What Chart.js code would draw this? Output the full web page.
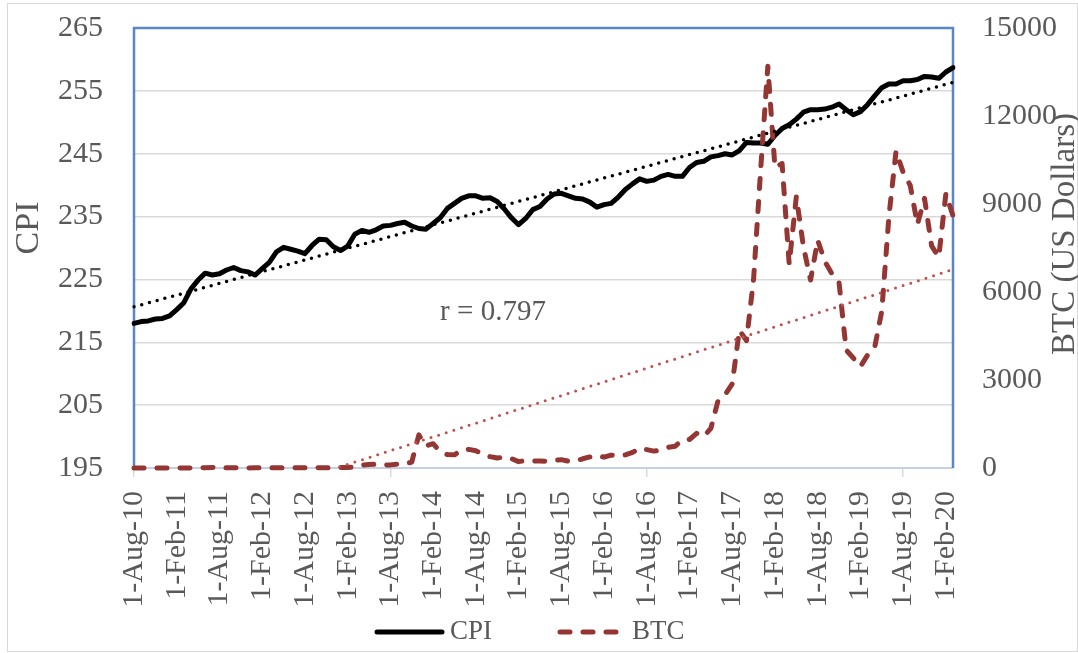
<!DOCTYPE html>
<html>
<head>
<meta charset="utf-8">
<script src="https://cdn.jsdelivr.net/npm/chart.js@4.4.1/dist/chart.umd.min.js"></script>
<style>
  html, body { margin: 0; padding: 0; background: #ffffff; }
  #wrap { width: 1078px; height: 653px; }
</style>
</head>
<body>
<div id="wrap"><canvas id="c" width="1078" height="653"></canvas></div>
<script>
// ---- categories (monthly, Aug 2010 .. Mar 2020) ----
const months = [
  'Aug-10','Sep-10','Oct-10','Nov-10','Dec-10',
  'Jan-11','Feb-11','Mar-11','Apr-11','May-11','Jun-11','Jul-11','Aug-11','Sep-11','Oct-11','Nov-11','Dec-11',
  'Jan-12','Feb-12','Mar-12','Apr-12','May-12','Jun-12','Jul-12','Aug-12','Sep-12','Oct-12','Nov-12','Dec-12',
  'Jan-13','Feb-13','Mar-13','Apr-13','May-13','Jun-13','Jul-13','Aug-13','Sep-13','Oct-13','Nov-13','Dec-13',
  'Jan-14','Feb-14','Mar-14','Apr-14','May-14','Jun-14','Jul-14','Aug-14','Sep-14','Oct-14','Nov-14','Dec-14',
  'Jan-15','Feb-15','Mar-15','Apr-15','May-15','Jun-15','Jul-15','Aug-15','Sep-15','Oct-15','Nov-15','Dec-15',
  'Jan-16','Feb-16','Mar-16','Apr-16','May-16','Jun-16','Jul-16','Aug-16','Sep-16','Oct-16','Nov-16','Dec-16',
  'Jan-17','Feb-17','Mar-17','Apr-17','May-17','Jun-17','Jul-17','Aug-17','Sep-17','Oct-17','Nov-17','Dec-17',
  'Jan-18','Feb-18','Mar-18','Apr-18','May-18','Jun-18','Jul-18','Aug-18','Sep-18','Oct-18','Nov-18','Dec-18',
  'Jan-19','Feb-19','Mar-19','Apr-19','May-19','Jun-19','Jul-19','Aug-19','Sep-19','Oct-19','Nov-19','Dec-19',
  'Jan-20','Feb-20','Mar-20'
];
const labelEvery = 6;   // a tick label every 6 months (Aug / Feb)

// ---- series ----
const cpi = [
  218.0, 218.3, 218.4, 218.7, 218.8,
  219.2, 220.2, 221.3, 223.5, 224.9, 226.0, 225.7, 225.9, 226.5, 226.9, 226.4, 226.2,
  225.7, 226.7, 227.7, 229.4, 230.1, 229.8, 229.5, 229.1, 230.4, 231.4, 231.3, 230.2,
  229.6, 230.3, 232.2, 232.8, 232.5, 232.9, 233.5, 233.6, 233.9, 234.1, 233.5, 233.1,
  233.0, 233.9, 234.8, 236.3, 237.1, 237.9, 238.3, 238.3, 237.9, 238.0, 237.4, 236.2,
  234.8, 233.7, 234.7, 236.1, 236.6, 237.8, 238.6, 238.7, 238.3, 237.9, 237.8, 237.3,
  236.5, 236.9, 237.1, 238.1, 239.3, 240.2, 241.0, 240.6, 240.8, 241.4, 241.7, 241.4,
  241.4, 242.8, 243.6, 243.8, 244.5, 244.7, 245.0, 244.8, 245.5, 246.8, 246.7, 246.7,
  246.5, 247.9, 249.0, 249.6, 250.5, 251.6, 252.0, 252.0, 252.1, 252.4, 252.9, 252.0,
  251.2, 251.7, 252.8, 254.2, 255.5, 256.1, 256.1, 256.6, 256.6, 256.8, 257.3, 257.2,
  257.0, 258.0, 258.7
];
const btc = [
  0.06, 0.06, 0.06, 0.2, 0.21,
  0.3, 0.6, 0.9, 0.8, 3.5, 9, 16, 13, 8, 5, 3.2, 3,
  5.3, 5.5, 4.9, 4.9, 5, 5.3, 6.7, 9.4, 10.1, 12.4, 11.2, 12.6,
  13.5, 20.4, 33.4, 93, 116, 129, 97, 106, 135, 132, 203, 1128,
  755, 829, 550, 457, 448, 624, 635, 586, 478, 387, 339, 378,
  320, 217, 254, 244, 236, 230, 264, 285, 230, 236, 315, 377,
  431, 369, 438, 417, 449, 531, 673, 625, 576, 610, 701, 742,
  964, 971, 1180, 1072, 1348, 2288, 2493, 2871, 4702, 4341, 6440, 10199,
  13700, 10240, 10380, 6950, 9250, 7540, 6410, 7770, 7040, 6620, 6320, 4020,
  3750, 3460, 3850, 4105, 5350, 8570, 10800, 10080, 9630, 8300, 9190, 7570,
  7190, 9350, 8600
];

// ---- axes / text ----
const cpiAxis = { min: 195, max: 265, step: 10 };
const btcAxis = { min: 0, max: 15000, step: 3000 };
const seriesNames = ['CPI', 'BTC'];
const leftTitle = 'CPI';
const rightTitle = 'BTC (US Dollars)';
const noteText = 'r = 0.797';

// least-squares linear trend (as the spreadsheet trendline)
function linearTrend(ys) {
  const n = ys.length;
  let sx = 0, sy = 0, sxx = 0, sxy = 0;
  ys.forEach((y, i) => { sx += i; sy += y; sxx += i * i; sxy += i * y; });
  const slope = (n * sxy - sx * sy) / (n * sxx - sx * sx);
  const icpt = (sy - slope * sx) / n;
  return ys.map((_, i) => icpt + slope * i);
}

const FONT = "'Liberation Serif', 'Times New Roman', serif";
const GREY = '#595959';
const RED = '#943634';
const CLEAR = 'rgba(0,0,0,0)';
const AREA = { left: 134, top: 28, right: 953, bottom: 468 };   // target plot box

const deco = {
  id: 'deco',
  beforeDraw(chart) {
    const { ctx, width, height } = chart;
    ctx.save();
    ctx.fillStyle = '#ffffff';
    ctx.fillRect(0, 0, width, height);
    ctx.strokeStyle = '#D9D9D9';
    ctx.lineWidth = 1;
    ctx.strokeRect(7.5, 3.5, width - 8, height - 5);
    ctx.restore();
  },
  beforeDatasetsDraw(chart) {
    const { ctx, chartArea: a } = chart;
    ctx.save();
    ctx.strokeStyle = '#C5D0E4';
    ctx.lineWidth = 2;
    ctx.beginPath(); ctx.moveTo(a.left, a.bottom); ctx.lineTo(a.right, a.bottom); ctx.stroke();
    ctx.strokeStyle = '#5A86C6';
    ctx.lineWidth = 2.5;
    ctx.beginPath();
    ctx.moveTo(a.left, a.bottom); ctx.lineTo(a.left, a.top);
    ctx.lineTo(a.right, a.top); ctx.lineTo(a.right, a.bottom);
    ctx.stroke();
    ctx.restore();
  },
  afterDraw(chart) {
    const { ctx } = chart;
    ctx.save();
    ctx.fillStyle = GREY;
    ctx.textAlign = 'center';
    ctx.textBaseline = 'middle';
    // axis titles (both read bottom-to-top)
    ctx.font = '34px ' + FONT;
    ctx.save(); ctx.translate(29, 228); ctx.rotate(-Math.PI / 2); ctx.fillText(leftTitle, 0, 0); ctx.restore();
    ctx.font = '33px ' + FONT;
    ctx.save(); ctx.translate(1065, 234); ctx.rotate(-Math.PI / 2); ctx.fillText(rightTitle, 0, 0); ctx.restore();
    // correlation note
    ctx.font = '29px ' + FONT;
    ctx.fillText(noteText, 493, 312);
    // legend
    ctx.lineWidth = 5;
    ctx.strokeStyle = '#000000';
    ctx.lineCap = 'round';
    ctx.beginPath(); ctx.moveTo(377, 632); ctx.lineTo(442, 632); ctx.stroke();
    ctx.strokeStyle = RED;
    ctx.setLineDash([10, 13]);
    ctx.beginPath(); ctx.moveTo(560, 632); ctx.lineTo(618, 632); ctx.stroke();
    ctx.setLineDash([]);
    ctx.font = '27px ' + FONT;
    ctx.textAlign = 'left';
    ctx.fillText(seriesNames[0], 450, 632);
    ctx.fillText(seriesNames[1], 632, 632);
    ctx.restore();
  }
};

const fit = { top: 28, xh: 653 - AREA.bottom, lw: AREA.left, rw: 1078 - AREA.right };

const chart = new Chart(document.getElementById('c'), {
  type: 'line',
  data: {
    labels: months,
    datasets: [
      { label: 'CPI trend', data: linearTrend(cpi), yAxisID: 'y', borderColor: '#000000',
        borderWidth: 3.5, borderDash: [0, 8], borderCapStyle: 'round', pointRadius: 0, order: 0 },
      { label: 'BTC trend', data: linearTrend(btc), yAxisID: 'y1', borderColor: '#C0504D',
        borderWidth: 3, borderDash: [0, 8], borderCapStyle: 'round', pointRadius: 0, order: 0, clip: 0 },
      { label: seriesNames[1], data: btc, yAxisID: 'y1', borderColor: RED, borderWidth: 5,
        borderDash: [10, 13], borderCapStyle: 'round', borderJoinStyle: 'round', pointRadius: 0, order: 1,
        clip: { left: 4, right: 4, top: 0, bottom: 5 } },
      { label: seriesNames[0], data: cpi, yAxisID: 'y', borderColor: '#000000', borderWidth: 5,
        borderJoinStyle: 'round', borderCapStyle: 'round', pointRadius: 0, order: 2 }
    ]
  },
  options: {
    responsive: false,
    animation: false,
    events: [],
    layout: { padding: { left: 0, right: 0, top: fit.top, bottom: 0 } },
    plugins: { legend: { display: false }, tooltip: { enabled: false } },
    elements: { line: { tension: 0 } },
    scales: {
      x: {
        type: 'category',
        offset: false,
        border: { display: false },
        grid: {
          drawOnChartArea: false, drawTicks: true, tickLength: 9, lineWidth: 1.5,
          color: (c) => (c.index % labelEvery === 0 ? '#D9D9D9' : CLEAR)
        },
        ticks: {
          autoSkip: false, minRotation: 90, maxRotation: 90, padding: 14,
          color: GREY, font: { family: FONT, size: 30 },
          callback: function (value, index) {
            return index % labelEvery === 0 ? '1-' + this.getLabelForValue(value) : null;
          }
        },
        afterFit: (s) => { s.height = fit.xh; }
      },
      y: {
        position: 'left',
        min: cpiAxis.min, max: cpiAxis.max,
        border: { display: false },
        grid: { color: '#D9D9D9', lineWidth: 1.5, drawTicks: true, tickLength: 31, tickColor: CLEAR },
        ticks: { stepSize: cpiAxis.step, padding: 0, color: GREY, font: { family: FONT, size: 30 },
                 callback: (v) => String(v) },
        afterFit: (s) => { s.width = fit.lw; }
      },
      y1: {
        position: 'right',
        min: btcAxis.min, max: btcAxis.max,
        border: { display: false },
        grid: { drawOnChartArea: false, drawTicks: true, tickLength: 29, color: CLEAR, tickColor: CLEAR },
        ticks: { stepSize: btcAxis.step, padding: 0, color: GREY, font: { family: FONT, size: 30 },
                 callback: (v) => String(v) },
        afterFit: (s) => { s.width = fit.rw; }
      }
    }
  },
  plugins: [deco]
});

// pin the plot box to the reference geometry
for (let k = 0; k < 4; k++) {
  const a = chart.chartArea;
  const dTop = AREA.top - a.top, dBot = a.bottom - AREA.bottom;
  const dL = AREA.left - a.left, dR = a.right - AREA.right;
  if (Math.abs(dTop) < 0.5 && Math.abs(dBot) < 0.5 && Math.abs(dL) < 0.5 && Math.abs(dR) < 0.5) break;
  fit.top += dTop; fit.xh += dBot; fit.lw += dL; fit.rw += dR;
  chart.options.layout.padding.top = fit.top;
  chart.update('none');
}
</script>
</body>
</html>
